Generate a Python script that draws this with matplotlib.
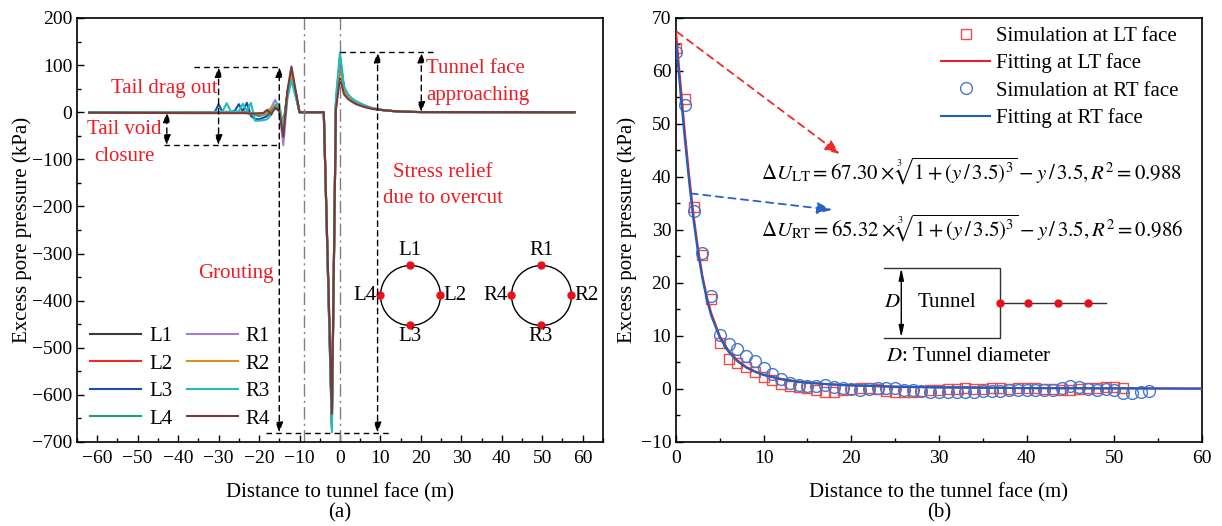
import numpy as np
import matplotlib.pyplot as plt
from matplotlib.transforms import offset_copy

plt.rcParams['font.family'] = ['Liberation Serif', 'DejaVu Serif']
plt.rcParams['mathtext.fontset'] = 'stix'

# ---------------- panel (a) data ----------------
x_face = [-62, -36, -32, -31, -30, -29, -28, -27, -26, -25, -24, -23, -22, -21, -20,
          -19, -18, -17, -16, -15, -14, -13, -12, -10, -4, -2, -1, 0, 1, 2, 3, 4,
          6, 8, 10, 13, 16, 20, 58]
L1 = [0, -1, -1, -1, -1, -1, -1, -1, -1, -1, -1, 0, -2, -3, -4, -3, -2, 2, 8, 4,
      -35, 40, 88, 0, 0, -660, 10, 110, 48, 33, 26, 21, 13, 8, 5, 2.5, 1, 0.3, 0]
L2 = [0, -1, -1, -1, 0, -1, 0, -1, -1, -1, 0, -1, -3, -5, -6, -4, -2, 3, 10, 6,
      -30, 35, 85, 0, 0, -650, 15, 105, 47, 34, 27, 22, 14, 8, 5, 2.5, 1, 0.3, 0]
L3 = [0, -1, 0, -1, 17, 0, 1, 0, 3, 17, 2, 20, -8, -14, -15, -12, -8, 4, 10, 5,
      -28, 40, 85, 0, 0, -670, 20, 115, 52, 36, 28, 22, 14, 8, 5, 2.5, 1, 0.3, 0]
L4 = [0, -1, -1, -1, -1, -1, 0, -1, -1, 0, -1, 0, -4, -6, -8, -6, -3, 2, 8, 6,
      -25, 38, 80, 0, 0, -665, 18, 112, 50, 35, 27, 22, 14, 8, 5, 2.5, 1, 0.3, 0]
R1 = [0, -1, -1, -1, -1, 0, -1, -1, 0, -1, -1, -2, -3, -5, -3, -6, 0, 10, 26, 5,
      -70, 30, 80, 0, 0, -655, 12, 108, 50, 35, 28, 23, 15, 9, 5.5, 2.5, 1, 0.3, 0]
R2 = [0, -1, -1, -1, -1, -1, -1, -1, -1, -1, -1, -1, -2, -3, -4, -3, -1, 8, 15, 10,
      -30, 40, 79, 0, 0, -645, 15, 100, 45, 33, 27, 22, 14, 8, 5, 2.5, 1, 0.3, 0]
R3 = [0, -1, -1, 0, 0, 2, 19, 2, 1, 2, 18, 3, 20, -18, -18, -17, -15, -5, 15, 18,
      -40, 30, 68, 0, 0, -679, 30, 127, 55, 38, 29, 23, 14, 8, 5, 2.5, 1, 0.3, 0]
R4 = [-1, -2, -2, -2, -2, -2, -2, -2, -2, -2, -2, -2, -3, -3, -2, -2, 5, -5, 10, 2,
      -52, 45, 97, 0, 0, -640, 5, 72, 38, 28, 22, 17, 11, 7, 5, 2.5, 1, 0.3, 0]
names = ['L1', 'L2', 'L3', 'L4', 'R1', 'R2', 'R3', 'R4']
series = [L1, L2, L3, L4, R1, R2, R3, R4]
colors = ['#3c3c3c', '#ee2b2b', '#1c4ea6', '#19a463', '#a47fd0', '#d4901a',
          '#22bcbc', '#7b3a3a']

# ---------------- panel (b) data ----------------
x_lt = list(range(0, 52))
sim_lt = [64.4, 54.8, 34.4, 25.3, 16.9, 8.7, 5.6, 4.9, 4.2, 3.3, 2.3, 1.7, 1.0,
          0.6, 0.4, 0.1, -0.2, -0.5, -0.5, -0.2, 0.0, 0.1, 0.2, 0.0, -0.3, -0.6,
          -0.6, -0.5, -0.3, -0.2, -0.1, 0.0, 0.0, 0.1, 0.0, 0.0, 0.1, 0.1, 0.0,
          0.1, 0.2, 0.1, 0.0, 0.0, -0.1, -0.1, 0.0, 0.1, 0.2, 0.3, 0.4, 0.2]
x_rt = list(range(0, 55))
sim_rt = [63.5, 53.6, 33.6, 25.7, 17.5, 10.1, 8.5, 7.5, 6.2, 5.3, 3.9, 2.8, 1.8,
          1.1, 0.75, 0.55, 0.5, 0.7, 0.4, 0.1, 0.0, -0.1, 0.0, 0.1, 0.2, 0.1,
          -0.1, -0.2, -0.4, -0.5, -0.5, -0.5, -0.6, -0.6, -0.5, -0.4, -0.3, -0.3,
          -0.2, -0.2, -0.1, -0.2, -0.2, -0.1, 0.1, 0.5, 0.4, 0.0, -0.1, 0.0, -0.1,
          -0.7, -0.7, -0.5, -0.3]
x_fit = [0, 0.5, 1, 1.5, 2, 2.5, 3, 3.5, 4, 5, 6, 7, 8, 9, 10, 12, 14, 17, 20, 25,
         30, 40, 60]
fit_lt = [67.3, 57.8, 48.6, 40.2, 32.8, 26.6, 21.5, 17.5, 14.4, 9.95, 7.2, 5.4,
          4.17, 3.33, 2.71, 1.89, 1.39, 0.95, 0.69, 0.44, 0.31, 0.17, 0.08]
fit_rt = [65.3, 56.1, 47.2, 39.0, 31.8, 25.8, 20.9, 17.0, 13.9, 9.65, 6.99, 5.23,
          4.05, 3.23, 2.63, 1.84, 1.35, 0.92, 0.67, 0.43, 0.30, 0.17, 0.07]

red = '#ee1c25'

fig = plt.figure(figsize=(12.22, 5.26), dpi=100)
ax1 = fig.add_axes([0.0630, 0.1597, 0.4304, 0.8061])
ax2 = fig.add_axes([0.5532, 0.1597, 0.4304, 0.8061])

for ax in (ax1, ax2):
    ax.tick_params(which='both', direction='in', top=False, right=False, labelsize=14)
    ax.tick_params(which='major', length=5, width=1)
    ax.tick_params(which='minor', length=3, width=1)
    ax.tick_params(axis='x', which='both', pad=6)
    for sp in ax.spines.values():
        sp.set_linewidth(1.2)

# ---------------- panel (a) ----------------
for name, ys, c in zip(names, series, colors):
    ax1.plot(x_face, ys, color=c, lw=1.5, label=name)

for xv in (-9, 0):
    ax1.axvline(xv, color='#808080', lw=1, ls=(0, (9, 3, 1.5, 3)))


def dline(ax, xs, ys):
    ax.plot(xs, ys, color='k', lw=1, ls=(0, (4, 3)))


def darrow(ax, x, y0, y1):
    ax.annotate('', xy=(x, y1), xytext=(x, y0),
                arrowprops=dict(arrowstyle='<|-|>,head_length=0.6,head_width=0.22',
                                ls=(0, (4, 3)), lw=1, color='k',
                                shrinkA=0, shrinkB=0))


dline(ax1, [-36, -15], [96, 96])
dline(ax1, [-43.6, -15], [-70, -70])
dline(ax1, [-18.3, 12.9], [-680, -680])
dline(ax1, [0, 23.5], [127, 127])
darrow(ax1, -30, -70, 96)
darrow(ax1, -42.8, -70, 0)
darrow(ax1, -15, -680, 96)
darrow(ax1, 9.3, -680, 127)
darrow(ax1, 20.1, 0, 127)

ax1.text(-43.4, 51, 'Tail drag out', color=red, fontsize=15, ha='center', va='center')
ax1.text(-53.3, -36, 'Tail void', color=red, fontsize=15, ha='center', va='center')
ax1.text(-53.3, -93, 'closure', color=red, fontsize=15, ha='center', va='center')
ax1.text(21.3, 93, 'Tunnel face', color=red, fontsize=15, ha='left', va='center')
ax1.text(21.3, 36, 'approaching', color=red, fontsize=15, ha='left', va='center')
ax1.text(25.5, -128, 'Stress relief', color=red, fontsize=15, ha='center', va='center')
ax1.text(25.5, -183, 'due to overcut', color=red, fontsize=15, ha='center', va='center')
ax1.text(-16.3, -342, 'Grouting', color=red, fontsize=15, ha='right', va='center')

# measuring point sketches
rad = 21.6
for (cx, cy), tag in (((17.3, -388), 'L'), ((49.7, -388), 'R')):
    ax1.plot(cx, cy, 'o', ms=2 * rad, mfc='none', mec='k', mew=1)
    for dx, dy in ((0, rad), (rad, 0), (0, -rad), (-rad, 0)):
        tr = offset_copy(ax1.transData, fig=fig, x=dx, y=dy, units='points')
        ax1.plot(cx, cy, 'o', ms=5, color='#e8101a', transform=tr)
    ax1.annotate(tag + '1', (cx, cy), xytext=(0, 32), textcoords='offset points',
                 ha='center', va='center', fontsize=15)
    ax1.annotate(tag + '3', (cx, cy), xytext=(0, -30), textcoords='offset points',
                 ha='center', va='center', fontsize=15)
    ax1.annotate(tag + '4', (cx, cy), xytext=(-24, 0), textcoords='offset points',
                 ha='right', va='center', fontsize=15)
    ax1.annotate(tag + '2', (cx, cy), xytext=(24, 0), textcoords='offset points',
                 ha='left', va='center', fontsize=15)

ax1.set_xlim(-65, 65)
ax1.set_ylim(-700, 200)
ax1.set_xticks(np.arange(-60, 61, 10))
ax1.set_xticks(np.arange(-65, 66, 5), minor=True)
ax1.set_yticks(np.arange(-700, 201, 100))
ax1.set_yticks(np.arange(-700, 201, 50), minor=True)
ax1.set_xlabel('Distance to tunnel face (m)', fontsize=15)
ax1.set_ylabel('Excess pore pressure (kPa)', fontsize=15)
ax1.xaxis.set_label_coords(0.5, -0.097)
ax1.yaxis.set_label_coords(-0.0856, 0.5)
ax1.legend(ncol=2, loc='upper left', bbox_to_anchor=(0.0247, 0.272), frameon=False,
           fontsize=15, handlelength=2.47, handletextpad=0.36, columnspacing=0.7,
           labelspacing=0.38, borderpad=0, borderaxespad=0)

# ---------------- panel (b) ----------------
ax2.plot(x_lt, sim_lt, 's', ms=7, mfc='none', mec='#ef4b4b', mew=1,
         label='Simulation at LT face', zorder=3)
ax2.plot(x_fit, fit_lt, color='#e8202a', lw=1.5, label='Fitting at LT face', zorder=4)
ax2.plot(x_rt, sim_rt, 'o', ms=8.5, mfc='none', mec='#4a78c8', mew=1,
         label='Simulation at RT face', zorder=5)
ax2.plot(x_fit, fit_rt, color='#1f5fbf', lw=1.5, label='Fitting at RT face', zorder=6)

ax2.annotate('', xy=(18.7, 44.3), xytext=(0.1, 67.4),
             arrowprops=dict(arrowstyle='-|>,head_length=0.9,head_width=0.35',
                             ls=(0, (4, 3)), lw=1.3, color='#ee2a2a',
                             shrinkA=0, shrinkB=0))
ax2.annotate('', xy=(17.8, 33.8), xytext=(1.67, 36.9),
             arrowprops=dict(arrowstyle='-|>,head_length=0.9,head_width=0.35',
                             ls=(0, (4, 3)), lw=1.3, color='#2a62c4',
                             shrinkA=0, shrinkB=0))

ax2.text(9.75, 41, r'$\Delta U_{\rm LT}=67.30\times\sqrt[3]{1+(y\,/\,3.5)^3}-y\,/\,3.5, R^2=0.988$',
         fontsize=15, ha='left', va='center')
ax2.text(9.75, 30.2, r'$\Delta U_{\rm RT}=65.32\times\sqrt[3]{1+(y\,/\,3.5)^3}-y\,/\,3.5, R^2=0.986$',
         fontsize=15, ha='left', va='center')

# tunnel sketch
ax2.plot([23.7, 37.0, 37.0, 23.7], [22.8, 22.8, 9.7, 9.7], color='#333333', lw=1)
ax2.annotate('', xy=(25.7, 22.8), xytext=(25.7, 9.7),
             arrowprops=dict(arrowstyle='<|-|>,head_length=0.7,head_width=0.15',
                             lw=1, color='k', shrinkA=0, shrinkB=0))
ax2.plot([37.0, 49.1], [16.3, 16.3], color='#333333', lw=1)
ax2.plot([37.0, 40.1, 43.6, 47.0], [16.3, 16.3, 16.3, 16.3], 'o', ms=5, color='#e8101a')
ax2.text(24.7, 16.3, r'$D$', fontsize=15, ha='center', va='center')
ax2.text(30.9, 16.3, 'Tunnel', fontsize=15, ha='center', va='center')
ax2.text(23.9, 6.1, r'$D$: Tunnel diameter', fontsize=15, ha='left', va='center')

ax2.set_xlim(0, 60)
ax2.set_ylim(-10, 70)
ax2.set_xticks(np.arange(0, 61, 10))
ax2.set_xticks(np.arange(0, 61, 5), minor=True)
ax2.set_yticks(np.arange(-10, 71, 10))
ax2.set_yticks(np.arange(-10, 71, 5), minor=True)
ax2.set_xlabel('Distance to the tunnel face (m)', fontsize=15)
ax2.set_ylabel('Excess pore pressure (kPa)', fontsize=15)
ax2.xaxis.set_label_coords(0.5, -0.097)
ax2.yaxis.set_label_coords(-0.074, 0.5)
ax2.legend(loc='upper left', bbox_to_anchor=(0.504, 0.98), frameon=False,
           fontsize=15, handlelength=2.35, handletextpad=0.29, labelspacing=0.36,
           borderpad=0, borderaxespad=0)

fig.text(340 / 1222, 1 - 513 / 526, '(a)', ha='center', va='center', fontsize=15)
fig.text(939 / 1222, 1 - 513 / 526, '(b)', ha='center', va='center', fontsize=15)

fig.savefig('out.png', dpi=100)
